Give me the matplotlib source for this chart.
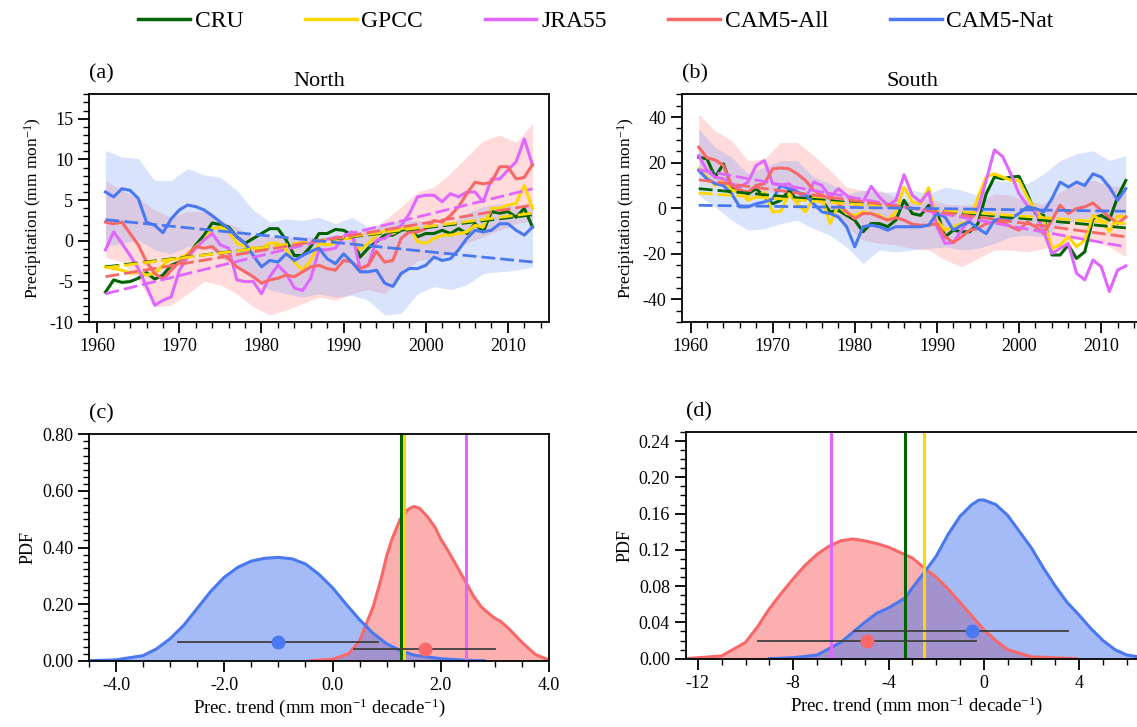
import matplotlib.pyplot as plt
import numpy as np
from matplotlib.lines import Line2D
from matplotlib.ticker import MultipleLocator, FormatStrFormatter

plt.rcParams['font.family'] = 'Liberation Serif'
plt.rcParams['mathtext.default'] = 'regular'
plt.rcParams['axes.unicode_minus'] = False

names = ['CRU', 'GPCC', 'JRA55', 'CAM5-All', 'CAM5-Nat']
colors = ['#006400', '#FFD700', '#E066FF', '#F86868', '#4A78F0']

years = np.arange(1961, 2014)
band_years = np.arange(1961, 2014, 2)

# ---- (a) North, annual anomalies (mm/mon)
north_cru = [-6.3, -4.8, -5.1, -5.0, -4.6, -3.9, -4.7, -4.2, -3.0, -2.6, -1.8, -0.5, 0.7, 2.2, 2.0,
             1.7, 0.5, -0.3, 0.3, 0.9, 1.5, 1.5, 0.1, -1.8, -1.8, -0.7, 0.9, 0.9, 1.4, 1.3, 0.7,
             -2.0, -0.9, -0.1, 0.7, 0.7, 1.3, 1.5, 0.5, 0.9, 0.9, 1.3, 0.9, 1.5, 0.9, 2.1, 1.1,
             3.6, 3.4, 3.6, 2.9, 4.0, 1.7]
north_gpcc = [-3.2, -3.4, -3.6, -4.0, -3.8, -4.2, -4.0, -3.0, -2.2, -2.2, -1.6, -0.7, 0.1, 1.5, 1.7,
              1.1, -0.3, -0.7, -0.9, -0.9, -0.3, -0.3, -1.1, -2.6, -3.6, -2.4, -0.3, -0.5, -0.3, 0.3,
              0.3, -1.1, -0.3, 0.7, 1.3, 0.9, 1.5, 1.7, -0.1, -0.3, 0.3, 0.7, 0.7, 0.9, 1.1, 1.9,
              1.7, 4.0, 4.0, 4.4, 4.6, 6.8, 4.0]
north_jra = [-1.1, 1.1, -0.3, -1.8, -3.4, -5.6, -7.9, -7.3, -6.9, -3.6, -2.0, -0.9, 0.1, 0.9, -0.5,
             -0.9, -4.8, -5.0, -5.0, -6.5, -4.4, -3.0, -4.0, -5.8, -6.1, -4.6, -1.1, -1.1, -0.9, 0.5,
             1.1, -3.4, -3.0, 0.1, 0.3, 1.1, 1.9, 3.3, 5.4, 5.6, 5.6, 4.8, 5.8, 5.4, 6.0, 6.0, 4.8,
             7.6, 7.6, 8.7, 9.7, 12.5, 9.3]
north_all = [2.3, 2.1, 2.3, 0.9, -0.5, -2.6, -4.0, -4.7, -3.6, -2.6, -1.8, -0.7, -0.9, -0.7, -1.6,
             -2.2, -3.2, -3.8, -4.4, -5.2, -4.8, -4.6, -4.2, -4.4, -3.8, -3.2, -3.0, -3.4, -3.6, -2.4,
             -2.6, -3.4, -3.0, -1.3, -2.6, -2.4, 0.3, 1.1, 1.1, 1.5, 2.5, 2.3, 3.1, 4.2, 5.8, 7.2,
             7.0, 7.2, 9.1, 9.1, 7.6, 7.8, 9.4]
north_nat = [6.0, 5.4, 6.4, 6.2, 5.2, 2.3, 1.9, 1.0, 2.7, 3.8, 4.4, 4.2, 3.8, 3.1, 2.3, 1.5, 0.5,
             -0.3, -1.8, -3.2, -2.4, -2.6, -1.6, -2.4, -1.8, -1.3, -0.9, -2.2, -2.8, -1.6, -2.6,
             -3.8, -3.8, -3.6, -5.2, -5.6, -4.0, -3.4, -3.4, -3.0, -2.0, -2.4, -2.2, -1.1, 0.3, 1.3,
             1.1, 1.3, 2.1, 2.1, 1.3, 0.7, 1.7]
north_trend_start = [-3.2, -3.3, -6.5, -4.4, 2.6]
north_trend_end = [3.2, 3.4, 6.4, 4.4, -2.6]
north_all_hi = [7.4, 6.2, 5.2, 3.8, 2.9, 3.6, 3.6, 2.5, 1.7, 0.5, 0.5, 0.5, 0.5, 0.5, 0.5, 0.9, 1.3,
                2.5, 4.2, 6.0, 6.6, 8.3, 10.3, 12.3, 13.0, 12.1, 14.4]
north_all_lo = [-2.0, -2.6, -4.8, -8.1, -7.9, -6.5, -5.0, -5.4, -6.5, -8.1, -9.1, -8.5, -7.7, -6.9,
                -7.3, -6.5, -6.0, -6.5, -4.4, -2.4, -2.2, -1.6, -0.3, 0.5, 1.3, 2.1, 2.5]
north_nat_hi = [11.1, 10.3, 10.1, 7.4, 7.4, 8.9, 8.1, 7.8, 6.2, 3.8, 2.3, 2.7, 2.5, 2.9, 2.1, 2.9,
                1.7, 2.1, 2.5, 2.5, 2.1, 2.1, 3.4, 4.2, 4.6, 4.2, 4.2]
north_nat_lo = [-0.7, -0.3, 0.1, -1.1, -1.6, -0.7, -0.5, -2.0, -3.2, -4.8, -6.0, -6.5, -6.9, -6.5,
                -6.9, -6.7, -7.3, -9.1, -8.9, -6.5, -5.6, -6.0, -5.4, -4.0, -3.8, -3.6, -3.2]

# ---- (b) South
south_cru = [22.4, 21.7, 13.7, 19.5, 9.3, 7.9, 6.4, 8.6, 4.9, 2.0, 3.5, 7.9, 3.5, 4.2, 5.7, 3.5,
             -1.6, -0.9, -3.1, -5.2, -10.3, -6.7, -6.7, -8.1, -5.2, 3.5, -2.3, -3.1, 1.3, -1.6,
             -12.5, -9.6, -10.3, -10.3, -6.7, 6.4, 13.7, 12.9, 13.7, 14.0, 6.4, -2.3, -3.1, -20.5,
             -20.5, -16.1, -22.0, -19.1, -4.5, -3.1, -5.2, 4.9, 12.2]
south_gpcc = [17.3, 13.7, 10.0, 12.2, 7.9, 7.1, 3.5, 4.9, 7.1, -1.6, -1.3, 6.4, 2.0, -1.6, 4.9, 4.2,
              -6.7, 1.3, -2.3, -3.1, -1.6, -2.3, -3.1, -5.2, -1.6, 9.3, 2.8, 2.0, 9.0, -5.2, -9.6,
              -8.1, -6.7, -6.0, 4.9, 13.7, 15.1, 13.7, 12.2, 12.2, 4.9, -0.9, -5.2, -17.6, -16.1,
              -12.5, -16.9, -14.0, -3.1, -5.2, -10.3, -3.5, -3.8]
south_jra = [23.1, 16.6, 13.7, 12.9, 10.8, 9.3, 11.5, 18.8, 20.9, 10.8, 10.0, 10.8, 7.1, 4.2, 11.5,
             10.0, 4.9, 8.6, 5.7, 1.3, 2.8, 9.6, 4.9, 1.3, 3.5, 14.7, 5.7, 2.8, 7.1, -8.1, -15.4,
             -15.0, -9.6, -4.5, -0.1, 12.2, 25.6, 22.7, 15.1, 6.4, 1.3, -1.6, -10.3, -19.8, -17.6,
             -15.4, -28.5, -31.4, -22.7, -25.6, -36.5, -27.1, -25.3]
south_all = [26.8, 22.1, 21.2, 18.8, 10.0, 7.9, 7.1, 10.0, 10.8, 17.3, 17.7, 17.3, 15.1, 12.2, 7.9,
             5.7, 4.2, 2.0, -1.6, -4.5, -2.3, -2.3, -3.8, -5.2, -4.1, -5.2, -7.0, -7.4, -7.4, -6.7,
             -12.5, -15.0, -12.5, -9.6, -8.9, -6.7, -6.0, -6.0, -8.1, -9.6, -6.0, -8.1, -11.1, -5.2,
             1.3, -2.3, -0.1, 0.6, 2.3, -0.9, -3.8, -6.7, -3.8]
south_nat = [16.6, 12.9, 10.8, 10.0, 6.4, 0.6, 0.6, 2.0, 2.8, 4.2, 10.0, 8.6, 7.1, 5.7, 2.0, -1.6,
             -2.3, -3.8, -8.1, -16.9, -8.1, -7.4, -8.1, -9.6, -8.1, -8.1, -8.1, -8.1, -7.4, -2.3,
             -3.8, -9.6, -7.4, -6.0, -8.9, -11.1, -5.2, -4.5, -4.5, -2.3, 0.6, -0.1, -1.6, 4.2,
             11.5, 9.3, 11.5, 10.0, 15.1, 13.7, 9.3, 3.5, 8.6]
south_trend_start = [8.6, 6.7, 16.9, 12.5, 1.3]
south_trend_end = [-8.6, -6.7, -16.9, -12.5, -1.3]
south_all_hi = [41.3, 34.0, 29.7, 20.9, 21.7, 28.9, 28.9, 23.1, 16.6, 9.3, 7.9, 7.9, 4.9, 2.8, 4.2,
                2.0, 1.3, 2.0, 6.4, 5.7, 2.8, 2.0, 7.1, 10.8, 12.2, 10.0, 9.3]
south_all_lo = [18.0, 11.5, 7.1, 4.9, 7.1, 7.1, 7.9, 4.2, -2.3, -8.1, -14.0, -15.4, -16.1, -17.6,
                -18.3, -22.7, -25.6, -22.0, -18.3, -18.3, -19.1, -17.6, -15.4, -13.2, -14.0, -16.9,
                -21.2]
south_nat_hi = [34.8, 26.8, 22.4, 15.1, 18.0, 20.9, 20.9, 13.7, 10.8, 6.4, 7.9, 7.1, 7.1, 7.9, 6.4,
                9.3, 7.9, 5.7, 12.2, 11.5, 10.8, 15.1, 20.9, 23.9, 25.3, 20.9, 23.1]
south_nat_lo = [5.7, 0.6, -5.2, -9.6, -8.9, -6.7, -5.2, -8.9, -11.8, -16.9, -24.2, -18.3, -19.1,
                -18.3, -17.6, -16.9, -18.3, -17.6, -15.4, -12.5, -11.8, -12.5, -7.4, -5.2, -3.8,
                -5.2, -3.8]

# ---- (c) North trend PDFs
c_all_x = [-0.4, 0.0, 0.3, 0.5, 0.75, 0.9, 1.0, 1.1, 1.25, 1.4, 1.5, 1.6, 1.75, 1.9, 2.0, 2.1,
           2.25, 2.5, 2.6, 2.75, 2.9, 3.0, 3.1, 3.25, 3.5, 3.75, 4.0]
c_all_pdf = [0.0, 0.005, 0.025, 0.07, 0.19, 0.29, 0.37, 0.43, 0.50, 0.535, 0.545, 0.54, 0.51, 0.47,
             0.43, 0.40, 0.35, 0.265, 0.23, 0.19, 0.165, 0.15, 0.14, 0.115, 0.065, 0.022, 0.002]
c_nat_x = [-4.5, -4.0, -3.5, -3.25, -3.0, -2.75, -2.5, -2.25, -2.0, -1.75, -1.5, -1.25, -1.0,
           -0.75, -0.5, -0.25, 0.0, 0.25, 0.5, 0.75, 1.0, 1.25, 1.5, 2.0, 2.5, 2.8]
c_nat_pdf = [0.0, 0.003, 0.018, 0.042, 0.078, 0.125, 0.185, 0.245, 0.295, 0.33, 0.352, 0.362,
             0.365, 0.36, 0.342, 0.305, 0.258, 0.2, 0.145, 0.097, 0.06, 0.036, 0.02, 0.007, 0.001,
             0.0]
c_obs_trend = [1.27, 1.32, 2.47]
c_all_range = [0.39, 3.0]
c_all_mean = 1.71
c_all_y = 0.04
c_nat_range = [-2.86, 0.84]
c_nat_mean = -1.0
c_nat_y = 0.067

# ---- (d) South trend PDFs
d_all_x = [-12.5, -11, -10, -9.5, -9, -8.5, -8, -7.5, -7, -6.5, -6, -5.5, -5, -4.5, -4, -3.5, -3,
           -2.5, -2, -1.5, -1, -0.5, 0, 0.5, 1, 2, 3.9]
d_all_pdf = [0.0, 0.003, 0.018, 0.035, 0.055, 0.072, 0.088, 0.103, 0.115, 0.124, 0.13, 0.132, 0.13,
             0.127, 0.123, 0.117, 0.111, 0.1, 0.09, 0.077, 0.062, 0.047, 0.032, 0.02, 0.01, 0.002,
             0.0]
d_nat_x = [-9, -8, -7, -6, -5.5, -5, -4.5, -4, -3.3, -3, -2.5, -2, -1.5, -1, -0.5, -0.2, 0, 0.5, 1,
           1.5, 2, 2.5, 3, 3.5, 4, 4.5, 5, 5.5, 6, 7]
d_nat_pdf = [0.0, 0.001, 0.004, 0.018, 0.029, 0.04, 0.05, 0.056, 0.067, 0.078, 0.095, 0.113, 0.137,
             0.157, 0.17, 0.175, 0.175, 0.17, 0.158, 0.14, 0.122, 0.1, 0.08, 0.062, 0.048, 0.033,
             0.02, 0.01, 0.004, 0.0]
d_obs_trend = [-3.3, -2.53, -6.4]
d_all_range = [-9.46, -0.34]
d_all_mean = -4.92
d_all_y = 0.0195
d_nat_range = [-5.45, 3.52]
d_nat_mean = -0.5
d_nat_y = 0.03

fig = plt.figure(figsize=(11.37, 7.27), dpi=100)

W = 0.4045
ax_a = fig.add_axes([0.0783, 0.5567, W, 0.3136])
ax_b = fig.add_axes([0.6001, 0.5567, W, 0.3136])
ax_c = fig.add_axes([0.0783, 0.0912, W, 0.3114])
ax_d = fig.add_axes([0.6033, 0.0940, W, 0.3118])


def style(ax):
    for s in ax.spines.values():
        s.set_linewidth(1.3)
    ax.tick_params(which='major', direction='out', length=8, width=1.3, labelsize=13,
                   top=False, right=False)
    ax.tick_params(which='minor', direction='out', length=4, width=1.0, top=False, right=False)


def ts_panel(ax, series, t0, t1, all_hi, all_lo, nat_hi, nat_lo):
    ax.fill_between(band_years, all_lo, all_hi, color='#FF8080', alpha=0.28, lw=0)
    ax.fill_between(band_years, nat_lo, nat_hi, color='#7D9BF5', alpha=0.28, lw=0)
    for s, c in zip(series, colors):
        ax.plot(years, s, color=c, lw=2.2)
    for a, b, c in zip(t0, t1, colors):
        ax.plot([years[0], years[-1]], [a, b], color=c, lw=2.0, ls=(0, (5, 1.8)))
    ax.set_xlim(1959, 2015)
    ax.xaxis.set_major_locator(MultipleLocator(10))
    ax.xaxis.set_minor_locator(MultipleLocator(2))
    ax.set_ylabel('Precipitation (mm mon$^{-1}$)', fontsize=12.5)
    style(ax)


ts_panel(ax_a, [north_cru, north_gpcc, north_jra, north_all, north_nat],
         north_trend_start, north_trend_end, north_all_hi, north_all_lo, north_nat_hi, north_nat_lo)
ax_a.set_ylim(-10, 18)
ax_a.yaxis.set_major_locator(MultipleLocator(5))
ax_a.yaxis.set_minor_locator(MultipleLocator(1))
ax_a.set_title('North', fontsize=16, pad=6)
ax_a.text(0.0, 1.07, '(a)', transform=ax_a.transAxes, fontsize=16)

ts_panel(ax_b, [south_cru, south_gpcc, south_jra, south_all, south_nat],
         south_trend_start, south_trend_end, south_all_hi, south_all_lo, south_nat_hi, south_nat_lo)
ax_b.set_ylim(-50, 50)
ax_b.yaxis.set_major_locator(MultipleLocator(20))
ax_b.yaxis.set_minor_locator(MultipleLocator(5))
ax_b.set_title('South', fontsize=16, pad=6)
ax_b.text(0.0, 1.07, '(b)', transform=ax_b.transAxes, fontsize=16)


def pdf_panel(ax, ax_x, ax_p, nx, np_, obs, ar, am, ay, nr, nm, ny):
    ax.fill_between(ax_x, 0, ax_p, color='#FA6E6E', alpha=0.55, lw=0)
    ax.plot(ax_x, ax_p, color='#F86868', lw=2.2)
    ax.fill_between(nx, 0, np_, color='#4A78F0', alpha=0.5, lw=0)
    ax.plot(nx, np_, color='#4A78F0', lw=2.2)
    for v, c in zip(obs, colors[:3]):
        ax.axvline(v, color=c, lw=2.2)
    ax.plot(ar, [ay, ay], color='#404040', lw=1.3)
    ax.plot(nr, [ny, ny], color='#404040', lw=1.3)
    ax.plot([am], [ay], 'o', color='#F86868', ms=9)
    ax.plot([nm], [ny], 'o', color='#4A78F0', ms=9)
    ax.set_ylabel('PDF', fontsize=13)
    ax.set_xlabel('Prec. trend (mm mon$^{-1}$ decade$^{-1}$)', fontsize=13.5, labelpad=2)
    style(ax)


pdf_panel(ax_c, c_all_x, c_all_pdf, c_nat_x, c_nat_pdf, c_obs_trend,
          c_all_range, c_all_mean, c_all_y, c_nat_range, c_nat_mean, c_nat_y)
ax_c.set_xlim(-4.5, 4.0)
ax_c.set_ylim(0, 0.8)
ax_c.xaxis.set_major_locator(MultipleLocator(2))
ax_c.xaxis.set_minor_locator(MultipleLocator(0.5))
ax_c.yaxis.set_major_locator(MultipleLocator(0.2))
ax_c.yaxis.set_minor_locator(MultipleLocator(0.025))
ax_c.xaxis.set_major_formatter(FormatStrFormatter('%.1f'))
ax_c.yaxis.set_major_formatter(FormatStrFormatter('%.2f'))
ax_c.text(0.0, 1.07, '(c)', transform=ax_c.transAxes, fontsize=16)

pdf_panel(ax_d, d_all_x, d_all_pdf, d_nat_x, d_nat_pdf, d_obs_trend,
          d_all_range, d_all_mean, d_all_y, d_nat_range, d_nat_mean, d_nat_y)
ax_d.set_xlim(-12.5, 6.8)
ax_d.set_ylim(0, 0.25)
ax_d.xaxis.set_major_locator(MultipleLocator(4))
ax_d.xaxis.set_minor_locator(MultipleLocator(1))
ax_d.yaxis.set_major_locator(MultipleLocator(0.04))
ax_d.yaxis.set_minor_locator(MultipleLocator(0.01))
ax_d.yaxis.set_major_formatter(FormatStrFormatter('%.2f'))
ax_d.text(0.0, 1.07, '(d)', transform=ax_d.transAxes, fontsize=16)

handles = [Line2D([], [], color=c, lw=2.5) for c in colors]
fig.legend(handles, names, ncol=5, loc='upper center', bbox_to_anchor=(0.524, 1.015),
           frameon=False, fontsize=17, handlelength=2.2, handletextpad=0.2, columnspacing=2.6)

fig.savefig('out.png', dpi=100)
